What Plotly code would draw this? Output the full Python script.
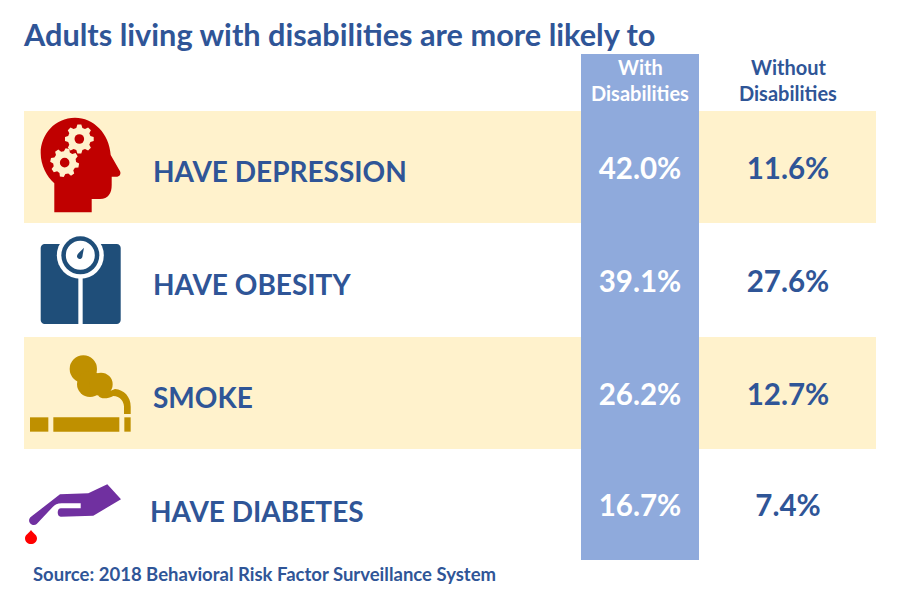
import math

import plotly.graph_objects as go

BLUE = "#2F5597"
YELLOW = "#FFF2CC"
COL = "#8FAADC"
FONT = "Lato"

categories = ["HAVE DEPRESSION", "HAVE OBESITY", "SMOKE", "HAVE DIABETES"]
with_disabilities = [42.0, 39.1, 26.2, 16.7]
without_disabilities = [11.6, 27.6, 12.7, 7.4]

title = "Adults living with disabilities are more likely to"
source = "Source: 2018 Behavioral Risk Factor Surveillance System"

row_tops = [111, 224, 337, 450]
row_h = 113
value_y = [172, 285, 398, 509]
label_y = [171, 284, 397, 511]
label_x = [153, 153, 153, 150]
x_with = 640
x_without = 788

shapes = []


def add_path(d, color):
    shapes.append(dict(type="path", path=d, fillcolor=color, line_width=0, layer="above"))


def circle(cx, cy, r, color):
    shapes.append(dict(type="circle", x0=cx - r, x1=cx + r, y0=cy - r, y1=cy + r,
                       fillcolor=color, line_width=0, layer="above"))


def box(x0, y0, x1, y1, color, layer="above"):
    shapes.append(dict(type="rect", x0=x0, x1=x1, y0=y0, y1=y1,
                       fillcolor=color, line_width=0, layer=layer))


def to_path(cmds, ox, oy):
    out = []
    for cmd in cmds:
        letter, nums = cmd[0], cmd[1:]
        pts = []
        for i in range(0, len(nums), 2):
            pts.append(f"{nums[i] / 3 + ox:.1f},{nums[i + 1] / 3 + oy:.1f}")
        out.append(letter + " ".join(pts))
    return " ".join(out) + " Z"


def gear(cx, cy, outer, inner, color, turn=0.0):
    teeth = 8
    step = 2 * math.pi / teeth
    pts = []
    for t in range(teeth):
        a = step * t + turn
        for da, r in [(-0.34, inner), (-0.17, outer), (0.17, outer), (0.34, inner)]:
            pts.append((cx + r * math.cos(a + da * step), cy + r * math.sin(a + da * step)))
    add_path("M" + " L".join(f"{x:.1f},{y:.1f}" for x, y in pts) + " Z", color)


# bands and the highlighted column
for i in (0, 2):
    box(24, row_tops[i], 876, row_tops[i] + row_h - 1, YELLOW, "below")
box(581, 54, 699, 560, COL, "below")

# head icon
add_path(to_path([
    ("M", 103, 322), ("L", 215, 322), ("L", 215, 282), ("L", 240, 282),
    ("C", 265, 282, 275, 265, 275, 240), ("L", 275, 215), ("L", 292, 215),
    ("C", 302, 213, 304, 203, 298, 195), ("L", 272, 150),
    ("C", 268, 85, 220, 38, 165, 38), ("C", 105, 38, 62, 88, 62, 145),
    ("C", 62, 180, 80, 215, 103, 235),
], 20, 105), "#C00000")
gear(20 + 178 / 3, 105 + 102 / 3, 14.5, 11.5, YELLOW)
circle(20 + 178 / 3, 105 + 102 / 3, 4.8, "#C00000")
gear(20 + 134 / 3, 105 + 173 / 3, 14.5, 11.5, YELLOW, 0.2)
circle(20 + 134 / 3, 105 + 173 / 3, 4.8, "#C00000")

# scale icon
SCALE = "#1F4E79"
add_path(to_path([
    ("M", 74, 27), ("L", 290, 27), ("C", 297, 27, 302, 32, 302, 39), ("L", 302, 255),
    ("C", 302, 262, 297, 267, 290, 267), ("L", 74, 267), ("C", 67, 267, 62, 262, 62, 255),
    ("L", 62, 39), ("C", 62, 32, 67, 27, 74, 27),
], 20, 235), SCALE)
box(20 + 175 / 3, 235 + 110 / 3, 20 + 188 / 3, 235 + 268 / 3, "white")
sx, sy = 20 + 181 / 3, 235 + 61 / 3
circle(sx, sy, 23.5, "white")
circle(sx, sy, 19, SCALE)
circle(sx, sy, 14.5, "white")
add_path(to_path([
    ("M", 192, 38), ("L", 187, 66), ("C", 184, 75, 172, 74, 171, 64), ("C", 171, 60, 173, 57, 176, 54),
], 20, 235), SCALE)

# cigarette icon
GOLD = "#BF9000"
box(20 + 30 / 3, 345 + 217 / 3, 20 + 85 / 3, 345 + 260 / 3, GOLD)
box(20 + 100 / 3, 345 + 217 / 3, 20 + 298 / 3, 345 + 260 / 3, GOLD)
box(20 + 313 / 3, 345 + 217 / 3, 20 + 332 / 3, 345 + 260 / 3, GOLD)
circle(20 + 190 / 3, 345 + 72 / 3, 41 / 3, GOLD)
circle(20 + 210 / 3, 345 + 117 / 3, 39 / 3, GOLD)
circle(20 + 243 / 3, 345 + 118 / 3, 35 / 3, GOLD)
add_path(to_path([
    ("M", 235, 152), ("L", 285, 132), ("C", 312, 134, 332, 155, 332, 185), ("L", 332, 207),
    ("L", 312, 207), ("L", 312, 185), ("C", 312, 170, 300, 153, 280, 153), ("C", 265, 160, 245, 165, 235, 152),
], 20, 345), GOLD)

# hand and blood drop icon
add_path(to_path([
    ("M", 262, 28), ("L", 303, 73), ("L", 220, 122), ("L", 122, 125),
    ("C", 110, 125, 110, 100, 122, 100), ("L", 182, 100), ("L", 182, 85), ("L", 125, 85),
    ("C", 112, 85, 104, 90, 98, 96), ("L", 50, 147), ("C", 38, 157, 18, 140, 32, 126),
    ("L", 120, 58), ("L", 205, 55),
], 20, 475), "#7030A0")
add_path(to_path([
    ("M", 33, 165), ("C", 40, 175, 51, 180, 51, 190), ("C", 51, 213, 15, 213, 15, 190),
    ("C", 15, 180, 26, 175, 33, 165),
], 20, 475), "#FF0000")

fig = go.Figure()

fig.add_trace(go.Scatter(
    x=[x_with] * len(categories), y=value_y, mode="text",
    text=[f"{v:.1f}%" for v in with_disabilities],
    textfont=dict(family=FONT, size=29.5, color="white", weight="bold"),
    hoverinfo="skip", showlegend=False,
))
fig.add_trace(go.Scatter(
    x=[x_without] * len(categories), y=value_y, mode="text",
    text=[f"{v:.1f}%" for v in without_disabilities],
    textfont=dict(family=FONT, size=29.5, color=BLUE, weight="bold"),
    hoverinfo="skip", showlegend=False,
))

annotations = []


def note(text, x, y, size, color=BLUE, xanchor="left"):
    annotations.append(dict(text=text, x=x, y=y, xref="x", yref="y", showarrow=False,
                            xanchor=xanchor, yanchor="middle", borderpad=0, borderwidth=0,
                            font=dict(family=FONT, size=size, color=color, weight="bold")))


note(title, 23, 34, 30.7)
note(source, 33, 574, 18.5)
for name, x, y in zip(categories, label_x, label_y):
    note(name, x, y, 28)
note("With", x_with, 67, 20, "white", "center")
note("Disabilities", x_with, 93, 20, "white", "center")
note("Without", x_without, 67, 20, BLUE, "center")
note("Disabilities", x_without, 93, 20, BLUE, "center")

fig.update_layout(
    width=899, height=610,
    margin=dict(l=0, r=0, t=0, b=0),
    paper_bgcolor="white", plot_bgcolor="white",
    shapes=shapes, annotations=annotations,
    xaxis=dict(range=[0, 899], visible=False, fixedrange=True),
    yaxis=dict(range=[610, 0], visible=False, fixedrange=True),
    showlegend=False,
)
fig.write_html("out.html", config={"displayModeBar": False},
               post_script="document.body.style.margin='0';document.body.style.overflow='hidden';")
